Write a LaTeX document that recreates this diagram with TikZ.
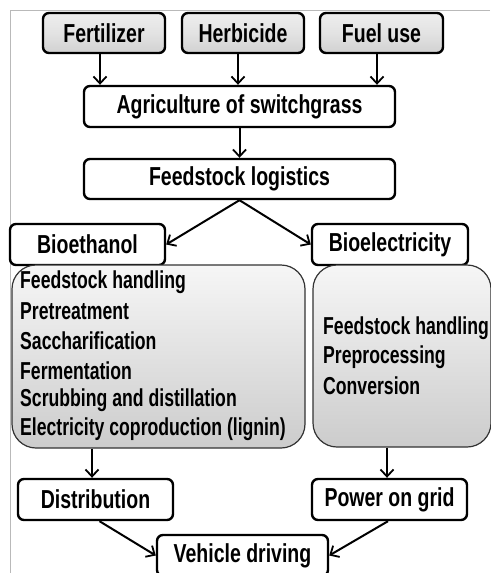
\documentclass[tikz,border=0pt]{standalone}
\usepackage{fontspec}
\setmainfont{Liberation Sans}
\newfontfamily\headfont[FakeStretch=0.75]{Liberation Sans}
\newfontfamily\itemfont[FakeStretch=0.72]{Liberation Sans}
\usetikzlibrary{arrows.meta,positioning}
\tikzset{
  box/.style={draw=black, line width=2.4pt, rounded corners=6pt, fill=white,
    inner sep=0pt, font=\headfont\fontsize{26}{30}\selectfont\bfseries},
  topbox/.style={box, top color=gray!14, bottom color=gray!36, middle color=gray!22},
  bigbox/.style={draw=black!80, line width=1.2pt, rounded corners=24pt,
    top color=gray!7, bottom color=gray!40, inner sep=0pt},
  item/.style={anchor=west, inner sep=0pt, font=\itemfont\fontsize{24.5}{28}\selectfont\bfseries},
  arr/.style={line width=2pt, -{Straight Barb[length=7pt,width=13pt,line width=1.8pt]}},
  frameline/.style={draw=gray!55, line width=1pt}
}
\begin{document}
\begin{tikzpicture}[x=1pt,y=-1pt]
\useasboundingbox (0,0) rectangle (490,573);
\fill[white] (0,0) rectangle (490,573);
\coordinate (fa) at (10,10);
\coordinate (fb) at (490,10);
\coordinate (fc) at (10,573);
\draw[frameline] (fb) -- (fa) -- (fc);

\node[topbox, minimum width=122pt, minimum height=40pt] (fert) at (104,33) {Fertilizer};
\node[topbox, minimum width=122pt, minimum height=40pt] (herb) at (243,33) {Herbicide};
\node[topbox, minimum width=123pt, minimum height=40pt] (fuel) at (381.5,33) {Fuel use};

\node[box, minimum width=311pt, minimum height=41pt] (agri) at (239.5,106.5) {Agriculture of switchgrass};
\node[box, minimum width=311pt, minimum height=40pt] (logi) at (239.5,179) {Feedstock logistics};

\node[box, minimum width=155pt, minimum height=41pt] (bioeth) at (87.5,244.5) {Bioethanol};
\node[box, minimum width=156pt, minimum height=41pt] (bioel) at (390,244.5) {Bioelectricity};

\node[bigbox, minimum width=293pt, minimum height=183pt] (lbox) at (158.5,356.5) {};
\node[bigbox, minimum width=178pt, minimum height=182pt] (rbox) at (402,356) {};

\node[item] (l1) at (20,282) {Feedstock handling};
\node[item] (l2) at (20,311.5) {Pretreatment};
\node[item] (l3) at (20,341) {Saccharification};
\node[item] (l4) at (20,370.5) {Fermentation};
\node[item] (l5) at (20,400) {Scrubbing and distillation};
\node[item] (l6) at (20,429.5) {Electricity coproduction (lignin)};

\node[item] (r1) at (323,328) {Feedstock handling};
\node[item] (r2) at (323,357) {Preprocessing};
\node[item] (r3) at (323,386) {Conversion};

\node[box, minimum width=155pt, minimum height=41pt] (dist) at (95.5,499.5) {Distribution};
\node[box, minimum width=155pt, minimum height=41pt] (power) at (389.5,499.5) {Power on grid};
\node[box, minimum width=171pt, minimum height=41pt] (veh) at (242.5,555.5) {Vehicle driving};

\draw[arr] ([xshift=-4pt]fert.south) -- ([xshift=-4pt]fert.south |- agri.north);
\draw[arr] ([xshift=-5pt]herb.south) -- ([xshift=-5pt]herb.south |- agri.north);
\draw[arr] ([xshift=-4.5pt]fuel.south) -- ([xshift=-4.5pt]fuel.south |- agri.north);
\draw[arr] (agri.south) -- (logi.north);
\draw[arr] (logi.south) -- (bioeth.east);
\draw[arr] (logi.south) -- (bioel.west);
\draw[arr] ([xshift=-3.5pt]dist.north |- lbox.south) -- ([xshift=-3.5pt]dist.north);
\draw[arr] ([xshift=-2.5pt]power.north |- rbox.south) -- ([xshift=-2.5pt]power.north);
\draw[arr] ([xshift=4pt]dist.south) -- (veh.west);
\draw[arr] ([xshift=-1.5pt]power.south) -- (veh.east);
\end{tikzpicture}
\end{document}
